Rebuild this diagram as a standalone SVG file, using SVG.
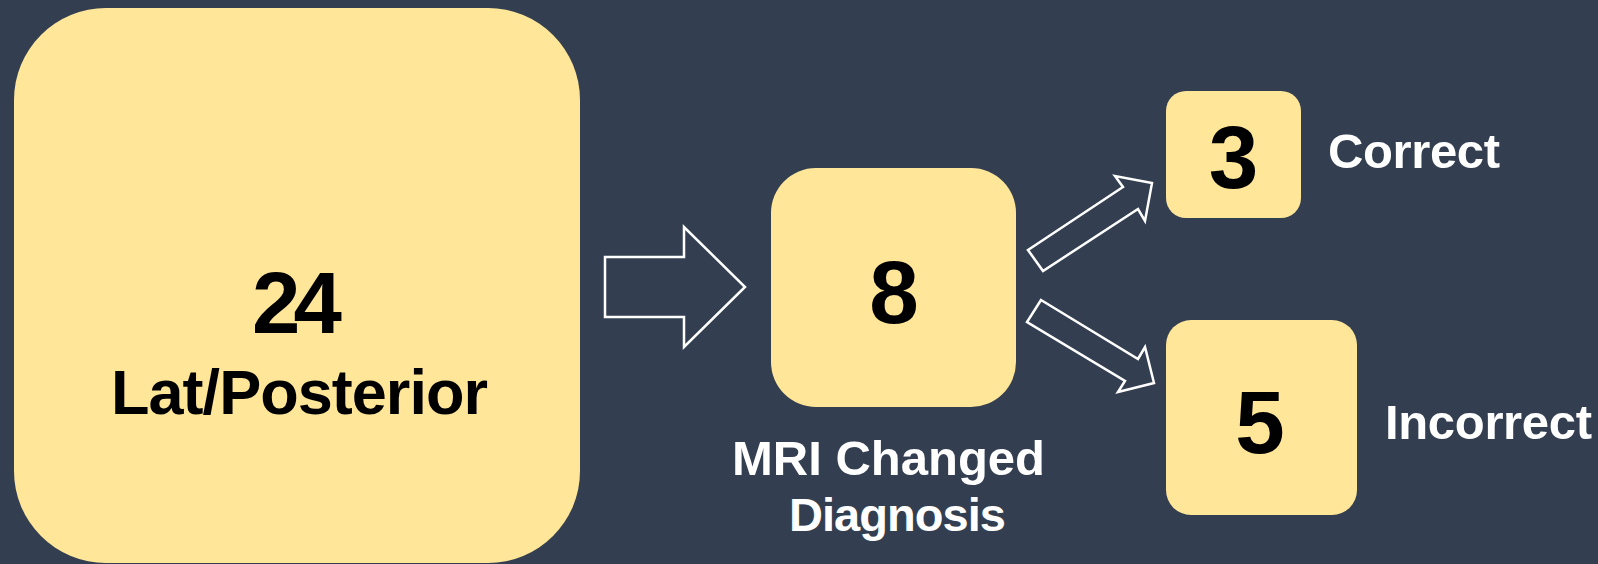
<svg xmlns="http://www.w3.org/2000/svg" width="1598" height="564" viewBox="0 0 1598 564">
<style>
.box{fill:#FFE699;}
.num{font-family:"Liberation Sans",Arial,sans-serif;font-weight:bold;fill:#000;}
.lbl{font-family:"Liberation Sans",Arial,sans-serif;font-weight:bold;fill:#FFFFFF;}
.arrow{fill:none;stroke:#FFFFFF;stroke-width:2.5;stroke-linejoin:miter;}
</style>
<rect x="0" y="0" width="1598" height="564" fill="#333F50"/>
<g id="node-lat-posterior">
<rect class="box" x="14" y="8" width="566" height="555" rx="92" ry="92"/>
<text class="num" x="252" y="333" font-size="87" textLength="90">24</text>
<text class="num" x="111" y="414" font-size="63" textLength="377">Lat/Posterior</text>
</g>
<g id="node-mri-changed">
<rect class="box" x="771" y="168" width="245" height="239" rx="45" ry="45"/>
<text class="num" x="894" y="323" font-size="89" text-anchor="middle">8</text>
<text class="lbl" x="732" y="475" font-size="49" textLength="313">MRI Changed</text>
<text class="lbl" x="789" y="531" font-size="47" textLength="217">Diagnosis</text>
</g>
<g id="node-correct">
<rect class="box" x="1166" y="91" width="135" height="127" rx="20" ry="20"/>
<text class="num" x="1233.5" y="188" font-size="89" text-anchor="middle">3</text>
<text class="lbl" x="1328" y="168" font-size="49" textLength="172">Correct</text>
</g>
<g id="node-incorrect">
<rect class="box" x="1166" y="320" width="191" height="195" rx="25" ry="25"/>
<text class="num" x="1260" y="453" font-size="89" text-anchor="middle">5</text>
<text class="lbl" x="1385" y="439" font-size="49" textLength="207">Incorrect</text>
</g>
<g id="connectors">
<polygon class="arrow" points="605,257 684,257 684,227 745,287 684,347 684,317 605,317"/>
<polygon class="arrow" points="1028,250 1123,187 1115,176 1152,183 1145,221 1138,209 1043,271"/>
<polygon class="arrow" points="1041,300 1138,359 1145,347 1154,383 1118,392 1125,381 1027,322"/>
</g>
</svg>
